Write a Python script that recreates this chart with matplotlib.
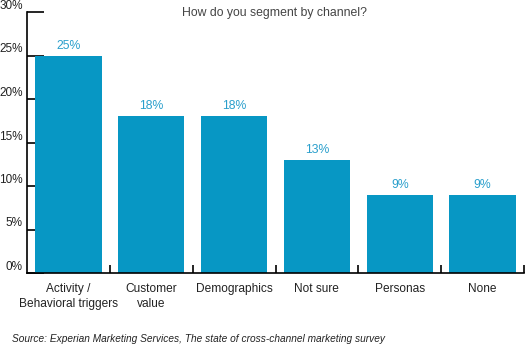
import matplotlib
matplotlib.use("Agg")
from matplotlib import pyplot as plt
import numpy as np

categories = ["Activity /\nBehavioral triggers", "Customer\nvalue", "Demographics",
              "Not sure", "Personas", "None"]
values = [25, 18, 18, 13, 9, 9]
yticks = [0, 5, 10, 15, 20, 25, 30]

bar_color = "#0797c4"
label_color = "#2a9fcc"

plt.rcParams['font.family'] = ['Liberation Sans', 'DejaVu Sans']

fig = plt.figure(figsize=(5.25, 3.48), dpi=100)
ax = fig.add_axes([27 / 525, 75 / 348, 497 / 525, 261 / 348])

x = np.arange(len(categories))
ax.bar(x, values, width=0.8, color=bar_color, zorder=2)
for xi, v in zip(x, values):
    ax.text(xi, v + 0.45, "%d%%" % v, ha="center", va="bottom", color=label_color, fontsize=8.8)

ax.set_xlim(-0.5, len(categories) - 0.5)
ax.set_ylim(0, 30)

ax.set_yticks(yticks)
ax.set_yticklabels(["%d%%" % t for t in yticks], fontsize=8.5, color="#222222", va="bottom")
ax.tick_params(axis="y", direction="in", length=12, width=1.2, pad=3)

ax.set_xticks(x + 0.5, minor=False)
ax.set_xticklabels([])
ax.tick_params(axis="x", direction="in", length=6, width=1.2)
for xi, name in zip(x, categories):
    ax.text(xi, -1.2, name, ha="center", va="top", fontsize=8.6, color="#222222",
            linespacing=1.25)

for side in ["top", "right"]:
    ax.spines[side].set_visible(False)
ax.spines["left"].set_linewidth(1.2)
ax.spines["bottom"].set_linewidth(1.2)

fig.text(275 / 525, 1 - 13 / 348, "How do you segment by channel?", ha="center", va="center",
         fontsize=8.8, color="#444444")
fig.text(12 / 525, 1 - 339 / 348,
         "Source: Experian Marketing Services, The state of cross-channel marketing survey",
         ha="left", va="center", fontsize=7.3, style="italic", color="#222222")

fig.savefig("out.png", dpi=100)
